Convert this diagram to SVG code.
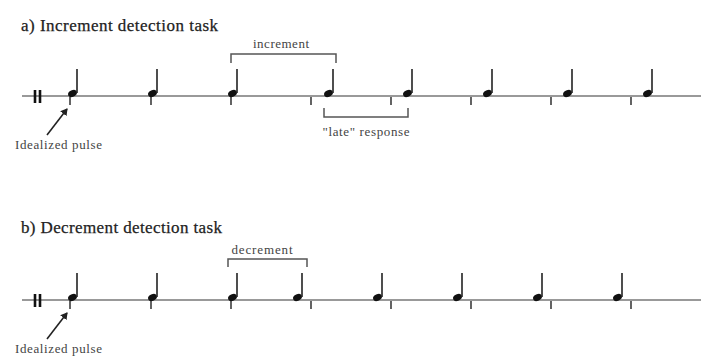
<svg xmlns="http://www.w3.org/2000/svg" width="701" height="356" viewBox="0 0 701 356">
<style>
.t{font-family:"Liberation Serif",serif;font-size:17px;fill:#222;stroke:#222;stroke-width:0.25}
.s{font-family:"Liberation Serif",serif;font-size:13px;fill:#444}
.staff{stroke:#999;stroke-width:2;fill:none}
.bar{stroke:#111;stroke-width:2.6}
.stem{stroke:#222;stroke-width:1.6}
.tick{stroke:#222;stroke-width:1.4}
.head{fill:#111}
.br{stroke:#555;stroke-width:1.5;fill:none}
.arr{stroke:#222;stroke-width:1.6;fill:none}
</style>
<defs>
<marker id="ah" markerWidth="8" markerHeight="8" refX="6" refY="4" orient="auto" markerUnits="userSpaceOnUse">
<path d="M0,0 L7,4 L0,8 Z" fill="#222"/>
</marker>
<g id="note">
<ellipse cx="-4.5" cy="-2.5" rx="4.6" ry="3.2" transform="rotate(-25 -4.5 -2.5)" class="head"/>
<line x1="0" y1="-3" x2="0" y2="-27" class="stem"/>
</g>
</defs>
<g id="panel-a">
<text class="t" x="21" y="31" textLength="197">a) Increment detection task</text>
<line class="staff" x1="22" y1="96" x2="701" y2="96"/>
<line class="bar" x1="35" y1="90" x2="35" y2="103"/>
<line class="bar" x1="40" y1="90" x2="40" y2="103"/>
<g id="notes-a">
<use href="#note" x="77" y="96"/><use href="#note" x="157" y="96"/><use href="#note" x="237" y="96"/><use href="#note" x="333" y="96"/>
<use href="#note" x="412" y="96"/><use href="#note" x="492" y="96"/><use href="#note" x="572" y="96"/><use href="#note" x="652" y="96"/>
</g>
<g id="ticks-a">
<line class="tick" x1="70" y1="97" x2="70" y2="105"/><line class="tick" x1="151" y1="97" x2="151" y2="105"/><line class="tick" x1="231" y1="97" x2="231" y2="105"/><line class="tick" x1="311" y1="97" x2="311" y2="105"/>
<line class="tick" x1="391" y1="97" x2="391" y2="105"/><line class="tick" x1="471" y1="97" x2="471" y2="105"/><line class="tick" x1="551" y1="97" x2="551" y2="105"/><line class="tick" x1="631" y1="97" x2="631" y2="105"/>
</g>
<g id="increment">
<path class="br" d="M231,63 V54 H336 V63"/>
<text class="s" x="281" y="48" text-anchor="middle" textLength="56">increment</text>
</g>
<g id="late">
<path class="br" d="M324,108 V117 H408 V108"/>
<text class="s" x="366" y="136" text-anchor="middle" textLength="87">"late" response</text>
</g>
<g id="pulse-a">
<text class="s" x="15" y="149" textLength="87">Idealized pulse</text>
</g>
</g>
<g id="panel-b">
<text class="t" x="21" y="233" textLength="201">b) Decrement detection task</text>
<line class="staff" x1="22" y1="300" x2="701" y2="300"/>
<line class="bar" x1="35" y1="294" x2="35" y2="307"/>
<line class="bar" x1="40" y1="294" x2="40" y2="307"/>
<g id="notes-b">
<use href="#note" x="77" y="300"/><use href="#note" x="157" y="300"/><use href="#note" x="237" y="300"/><use href="#note" x="302" y="300"/>
<use href="#note" x="382" y="300"/><use href="#note" x="462" y="300"/><use href="#note" x="542" y="300"/><use href="#note" x="622" y="300"/>
</g>
<g id="ticks-b">
<line class="tick" x1="70" y1="301" x2="70" y2="309"/><line class="tick" x1="151" y1="301" x2="151" y2="309"/><line class="tick" x1="231" y1="301" x2="231" y2="309"/><line class="tick" x1="311" y1="301" x2="311" y2="309"/>
<line class="tick" x1="391" y1="301" x2="391" y2="309"/><line class="tick" x1="471" y1="301" x2="471" y2="309"/><line class="tick" x1="551" y1="301" x2="551" y2="309"/><line class="tick" x1="631" y1="301" x2="631" y2="309"/>
</g>
<g id="decrement">
<path class="br" d="M228,267 V259 H307 V267"/>
<text class="s" x="262" y="254" text-anchor="middle" textLength="61">decrement</text>
</g>
<g id="pulse-b">
<text class="s" x="15" y="353" textLength="87">Idealized pulse</text>
</g>
</g>
<g id="connectors">
<line class="arr" x1="47" y1="135" x2="67" y2="109" marker-end="url(#ah)"/>
<line class="arr" x1="47" y1="339" x2="67" y2="313" marker-end="url(#ah)"/>
</g>
</svg>
